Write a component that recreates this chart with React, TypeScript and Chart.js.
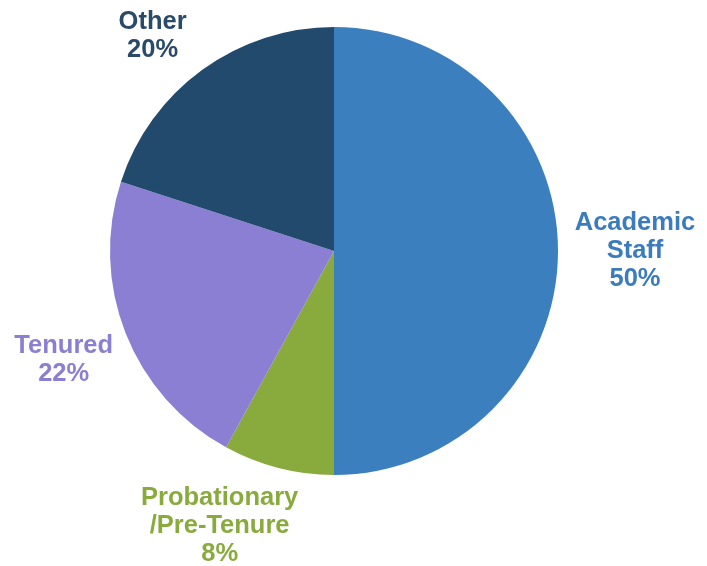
import React, { useEffect, useRef } from "react";
import { Chart, registerables } from "chart.js";

Chart.register(...registerables);

const categories = ["Academic Staff", "Probationary /Pre-Tenure", "Tenured", "Other"];
const values = [50, 8, 22, 20];
const labelLines = [
  ["Academic", "Staff", "50%"],
  ["Probationary", "/Pre-Tenure", "8%"],
  ["Tenured", "22%"],
  ["Other", "20%"],
];
const sliceColors = ["#3b7fbf", "#89ab3e", "#8a7fd3", "#224a6c"];
const textColors = ["#3b7cbe", "#89ab3e", "#8a7fd0", "#2a4a6a"];

const labelNudges = [
  [6, 0],
  [-41, -11],
  [4, 0],
  [-8, 24],
];

const outsideLabels = {
  id: "outsideLabels",
  afterDraw(chart: any) {
    const ctx = chart.ctx;
    const meta = chart.getDatasetMeta(0);
    ctx.save();
    ctx.font = "bold 25.5px 'Liberation Sans', Arial, sans-serif";
    ctx.textAlign = "center";
    ctx.textBaseline = "middle";
    meta.data.forEach((arc: any, i: number) => {
      const p = arc.getProps(["x", "y", "startAngle", "endAngle", "outerRadius"], true);
      const mid = (p.startAngle + p.endAngle) / 2;
      const r = p.outerRadius * 1.317;
      const cx = p.x + Math.cos(mid) * r + labelNudges[i][0];
      const cy = p.y + Math.sin(mid) * r + labelNudges[i][1];
      const lines = labelLines[i];
      const lh = 28;
      const start = cy - ((lines.length - 1) * lh) / 2;
      ctx.fillStyle = textColors[i];
      lines.forEach((t, j) => ctx.fillText(t, cx, start + j * lh));
    });
    ctx.restore();
  },
};

export default function App() {
  const ref = useRef<HTMLCanvasElement>(null);
  useEffect(() => {
    if (!ref.current) return;
    const chart = new Chart(ref.current, {
      type: "pie",
      data: {
        labels: categories,
        datasets: [
          {
            data: values,
            backgroundColor: sliceColors,
            borderWidth: 0,
          },
        ],
      },
      options: {
        responsive: false,
        animation: false,
        layout: { padding: { left: 110, right: 149, top: 27, bottom: 91 } },
        plugins: {
          legend: { display: false },
          tooltip: { enabled: false },
        },
      },
      plugins: [outsideLabels],
    });
    return () => chart.destroy();
  }, []);
  return (
    <div style={{ position: "fixed", left: 0, top: 0, width: 707, height: 566, background: "#fff" }}>
      <canvas ref={ref} width={707} height={566} />
    </div>
  );
}
